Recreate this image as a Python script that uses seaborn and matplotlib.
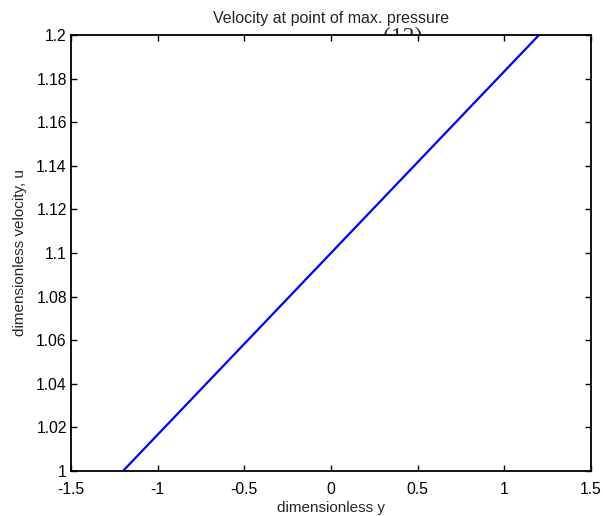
import numpy as np
import pandas as pd
import matplotlib
matplotlib.use("Agg")
import matplotlib.pyplot as plt
import seaborn as sns

# values
y_pos = [-1.2, -0.9, -0.6, -0.3, 0.0, 0.3, 0.6, 0.9, 1.2]
velocity = [1.0, 1.025, 1.05, 1.075, 1.1, 1.125, 1.15, 1.175, 1.2]

x_ticks = [-1.5, -1, -0.5, 0, 0.5, 1, 1.5]
x_labels = ["-1.5", "-1", "-0.5", "0", "0.5", "1", "1.5"]
y_ticks = [1, 1.02, 1.04, 1.06, 1.08, 1.1, 1.12, 1.14, 1.16, 1.18, 1.2]
y_labels = ["1", "1.02", "1.04", "1.06", "1.08", "1.1", "1.12", "1.14", "1.16", "1.18", "1.2"]

sns.set_style("ticks")
plt.rcParams['font.family'] = ['Liberation Sans', 'DejaVu Sans']

df = pd.DataFrame({'y': y_pos, 'u': velocity})

fig = plt.figure(figsize=(6.03, 5.16), dpi=100)
ax = fig.add_axes([71 / 603, 1 - 471 / 516, 520 / 603, 436 / 516])

sns.lineplot(data=df, x='y', y='u', ax=ax, color='#0000ff', linewidth=1.6)

ax.set_xlim(-1.5, 1.5)
ax.set_ylim(1, 1.2)
ax.set_xticks(x_ticks)
ax.set_xticklabels(x_labels)
ax.set_yticks(y_ticks)
ax.set_yticklabels(y_labels)
ax.tick_params(direction='in', length=4, width=1, top=True, right=True,
               labelsize=11.3, colors='black')
ax.tick_params(axis='x', pad=8)
ax.tick_params(axis='y', pad=3)
for s in ax.spines.values():
    s.set_visible(True)
    s.set_linewidth(1.3)
    s.set_color('black')

ax.set_xlabel('dimensionless y', fontsize=11, labelpad=3)
ax.set_ylabel('dimensionless velocity, u', fontsize=11, labelpad=6.5)
ax.set_title('Velocity at point of max. pressure', fontsize=11.5, pad=8.5)

# equation number from the page, partly hidden behind the axes
fig.text(403 / 603, 1 - 27 / 516, '(12)', family='Liberation Serif', fontsize=17,
         ha='center', va='top', zorder=-1)

fig.savefig('out.png', dpi=100)
